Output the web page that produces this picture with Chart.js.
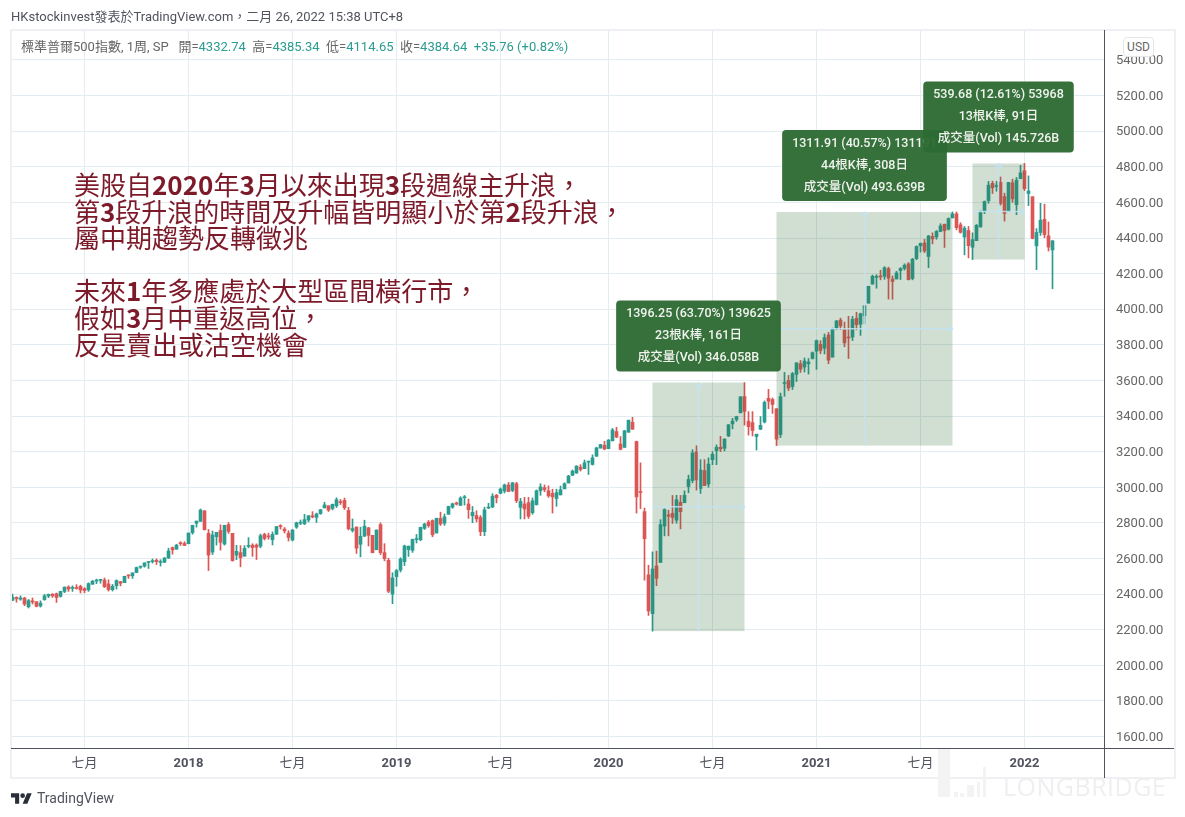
<!DOCTYPE html>
<html>
<head>
<meta charset="utf-8">
<title>SPX weekly</title>
<script src="https://cdn.jsdelivr.net/npm/chart.js@4/dist/chart.umd.js"></script>
<style>
  html, body { margin: 0; padding: 0; background: #fff; }
  body { position: relative; width: 1185px; height: 817px; overflow: hidden; font-family: Roboto, "Noto Sans CJK TC", sans-serif; }
  canvas { position: absolute; left: 0; top: 0; }
  .abs { position: absolute; white-space: pre; }
  #title { left: 11px; top: 6px; font-size: 13px; color: #50535e; }
  #legend { left: 21px; top: 36px; font-size: 13px; color: #666; }
  #legend i { font-style: normal; color: #2b9c90; }
  #note { left: 74px; top: 171px; font-size: 26px; line-height: 26.6px; color: #7d1a2a; font-family: "Noto Sans CJK TC", sans-serif; }
  #usd { left: 1123px; top: 37px; width: 29px; height: 18px; line-height: 18px; text-align: center; font-size: 12px; color: #666; background: #fff; border: 1px solid #e3e5ea; border-radius: 4px; }
  #brand { left: 37px; top: 790px; font-size: 14px; color: #50535e; }
  #logo { position: absolute; left: 11px; top: 791px; }
  #mark { left: 1003px; top: 769px; font-size: 25px; letter-spacing: 0.5px; color: #efefef; font-family: "Open Sans", sans-serif; }
  .line { position: absolute; background: #50535e; }
  .frame { position: absolute; background: #eef0f3; }
  .wm { position: absolute; background: #f3f3f3; }
</style>
</head>
<body>
<canvas id="chart" width="1185" height="817"></canvas>

<div class="frame" style="left:10px;top:29px;width:1166px;height:2px"></div>
<div class="frame" style="left:10px;top:777px;width:1166px;height:2px"></div>
<div class="frame" style="left:10px;top:29px;width:2px;height:750px"></div>
<div class="frame" style="left:1174px;top:29px;width:2px;height:750px"></div>

<!-- faint watermark bars -->
<div class="wm" style="left:938px;top:749px;width:12px;height:48px"></div>
<div class="wm" style="left:954px;top:792px;width:4px;height:5px"></div>
<div class="wm" style="left:960px;top:793px;width:4px;height:4px"></div>
<div class="wm" style="left:967px;top:785px;width:7px;height:12px"></div>
<div class="wm" style="left:977px;top:782px;width:3px;height:15px"></div>
<div class="wm" style="left:983px;top:767px;width:3px;height:30px"></div>
<div id="mark" class="abs">LONGBRIDGE</div>

<div class="line" style="left:11px;top:748px;width:1163px;height:1px"></div>
<div class="line" style="left:1104px;top:30px;width:1px;height:748px"></div>

<div id="title" class="abs"></div>
<div id="legend" class="abs"></div>
<div id="note" class="abs"></div>
<div id="usd" class="abs">USD</div>
<svg id="logo" width="21" height="14" viewBox="0 0 36 24"><path fill="#2a2e39" d="M14 22H7V11H0V4h14v18zM28 22h-8l7.5-18h8L28 22z"/><circle fill="#2a2e39" cx="20" cy="8" r="4"/></svg>
<div id="brand" class="abs">TradingView</div>

<script>
// weekly candles, 2017-02-27 through 2022-02-21
const opens = [
  2365,2381,2371,2378,2329,2362,2357,2333,2369,2389,
  2399,2402,2387,2415,2440,2432,2437,2444,2431,2424,
  2455,2473,2477,2478,2457,2425,2447,2470,2464,2503,
  2503,2521,2551,2557,2578,2582,2590,2578,2579,2602,
  2661,2652,2685,2684,2683,2745,2798,2809,2867,2741,
  2636,2722,2757,2681,2790,2741,2619,2633,2613,2668,
  2675,2675,2669,2735,2723,2705,2736,2781,2765,2742,
  2704,2776,2798,2795,2816,2840,2831,2852,2884,2896,
  2881,2896,2919,2926,2870,2757,2776,2680,2726,2772,
  2730,2649,2790,2633,2590,2400,2498,2535,2582,2650,
  2646,2706,2705,2769,2804,2813,2743,2825,2798,2848,
  2888,2912,2898,2941,2906,2840,2841,2830,2751,2883,
  2889,2955,2966,2979,3013,2982,3020,2887,2906,2913,
  2857,2902,2980,2998,2980,2965,2937,2957,2991,3024,
  3067,3080,3113,3105,3141,3128,3174,3220,3236,3217,
  3261,3313,3243,3224,3309,3365,3257,2974,2863,2508,
  2290,2558,2578,2782,2845,2854,2815,2915,2913,3004,
  3038,3199,2993,3094,3018,3155,3205,3225,3219,3288,
  3356,3380,3418,3509,3371,3363,3285,3326,3367,3500,
  3493,3441,3296,3583,3600,3566,3634,3694,3675,3694,
  3723,3764,3803,3781,3855,3731,3892,3939,3885,3842,
  3844,3949,3916,3963,4034,4141,4179,4185,4185,4228,
  4169,4170,4217,4229,4255,4173,4285,4356,4372,4296,
  4409,4406,4437,4477,4450,4513,4536,4474,4406,4442,
  4348,4385,4463,4553,4610,4707,4689,4712,4633,4548,
  4710,4587,4733,4778,4650,4632,4356,4431,4505,4412,
  4332.74
];
const highs = [
  2400,2385,2390,2382,2370,2378,2358,2362,2398,2400,
  2403,2406,2416,2440,2446,2446,2453,2450,2436,2463,
  2477,2484,2480,2490,2480,2454,2480,2471,2500,2508,
  2519,2552,2557,2576,2582,2597,2598,2593,2606,2658,
  2665,2680,2694,2694,2743,2787,2810,2878,2870,2763,
  2754,2747,2789,2787,2802,2741,2674,2672,2672,2717,
  2683,2682,2737,2742,2742,2749,2780,2790,2774,2756,
  2764,2804,2816,2848,2841,2863,2855,2876,2916,2896,
  2906,2941,2931,2939,2887,2822,2778,2776,2815,2775,
  2730,2760,2800,2683,2601,2520,2538,2604,2675,2670,
  2709,2735,2776,2798,2813,2817,2826,2860,2850,2894,
  2911,2917,2947,2954,2934,2892,2868,2841,2888,2910,
  2964,2960,2996,3018,3027,3027,3028,2938,2943,2943,
  2940,2985,3020,3013,3008,2989,2989,3007,3025,3067,
  3097,3121,3127,3153,3147,3182,3225,3241,3258,3268,
  3330,3337,3285,3320,3378,3393,3259,3137,2883,2562,
  2637,2641,2818,2879,2871,2954,2955,2954,2980,3068,
  3211,3233,3155,3155,3165,3200,3238,3286,3272,3352,
  3387,3399,3509,3588,3425,3425,3298,3397,3485,3550,
  3502,3441,3529,3645,3628,3645,3699,3712,3726,3723,
  3760,3827,3823,3861,3870,3894,3937,3950,3928,3960,
  3960,3983,3978,4020,4129,4192,4194,4219,4239,4236,
  4187,4213,4234,4255,4262,4286,4356,4372,4393,4415,
  4429,4442,4480,4479,4513,4546,4546,4486,4465,4465,
  4429,4476,4552,4608,4718,4719,4718,4743,4652,4713,
  4731,4740,4808,4818.62,4749,4632,4453,4595,4590,4490,
  4385.34
];
const lows = [
  2363,2354,2365,2335,2322,2344,2328,2327,2365,2380,
  2381,2353,2383,2408,2415,2415,2428,2406,2407,2415,
  2455,2459,2461,2437,2417,2417,2428,2446,2464,2488,
  2488,2520,2544,2551,2544,2574,2566,2557,2577,2600,
  2624,2652,2673,2673,2682,2736,2776,2808,2759,2532,
  2622,2675,2647,2675,2741,2585,2593,2553,2613,2660,
  2612,2594,2660,2704,2708,2676,2735,2765,2743,2698,
  2698,2769,2790,2790,2805,2828,2802,2848,2884,2864,
  2873,2886,2903,2875,2760,2748,2628,2609,2722,2670,
  2632,2649,2622,2587,2408,2346,2444,2524,2560,2612,
  2634,2687,2700,2763,2775,2722,2743,2785,2786,2848,
  2882,2900,2898,2900,2825,2801,2805,2728,2728,2880,
  2885,2912,2963,2968,2976,2975,2914,2822,2822,2825,
  2848,2900,2955,2975,2943,2855,2893,2957,2991,3024,
  3066,3078,3091,3104,3072,3125,3174,3220,3212,3217,
  3260,3278,3210,3224,3309,3326,2855,2880,2478,2280,
  2191.86,2447,2578,2727,2727,2797,2798,2766,2913,2969,
  3025,2984,2965,3009,3000,3127,3127,3200,3204,3284,
  3328,3370,3418,3349,3293,3288,3209,3323,3361,3441,
  3415,3233.94,3279,3511,3543,3549,3594,3645,3647,3636,
  3720,3662,3750,3749,3694,3731,3885,3885,3789,3723,
  3824,3884,3853,3917,4034,4141,4118,4165,4168,4057,
  4056,4170,4167,4220,4164,4165,4278,4321,4318,4233,
  4367,4393,4435,4347,4445,4513,4446,4427,4305,4288,
  4278.94,4385,4460,4537,4595,4650,4663,4585,4495,4548,
  4600,4531,4733,4666,4582,4395,4222,4414,4401,4327,
  4114.65
];
const closes = [
  2383,2373,2378,2344,2363,2355,2331,2349,2390,2399,
  2390,2381,2415,2439,2428,2438,2431,2423,2420,2459,
  2472,2474,2478,2441,2425,2444,2476,2461,2500,2502,
  2519,2549,2553,2575,2581,2587,2582,2582,2602,2642,
  2648,2675,2683,2673,2743,2786,2810,2872,2762,2619,
  2732,2747,2691,2786,2752,2588,2640,2604,2657,2670,
  2661,2663,2728,2712,2721,2735,2779,2779,2755,2718,
  2759,2801,2802,2818,2840,2833,2850,2874,2901,2872,
  2904,2930,2914,2885,2767,2768,2658,2724,2781,2730,
  2632,2760,2633,2599,2416,2491,2532,2596,2670,2669,
  2707,2707,2775,2793,2785,2733,2826,2794,2834,2892,
  2907,2905,2939,2945,2874,2859,2822,2750,2873,2886,
  2950,2941,2990,3013,2976,3025,2924,2920,2878,2837,
  2924,2980,3002,2987,2952,2946,2970,2986,3020,3063,
  3091,3119,3100,3137,3145,3165,3221,3240,3214,3265,
  3322,3282,3213,3317,3376,3326,2946,2970,2711,2305,
  2541,2488,2790,2875,2837,2830,2930,2863,2955,3044,
  3193,3041,3097,3009,3130,3185,3224,3215,3271,3351,
  3372,3397,3508,3426,3340,3319,3298,3348,3477,3483,
  3465,3270,3509,3585,3557,3638,3699,3663,3709,3703,
  3756,3824,3768,3841,3714,3887,3934,3906,3811,3838,
  3943,3913,3975,4020,4129,4185,4180,4181,4233,4174,
  4156,4204,4229,4247,4166,4281,4352,4370,4327,4411,
  4395,4437,4468,4441,4509,4535,4458,4432,4455,4357,
  4391,4471,4545,4605,4697,4682,4697,4594,4538,4712,
  4620,4725,4766,4677,4664,4398,4431,4500,4419,4349,
  4384.64
];

// axis ticks, x ones are candle indexes
const xTickIndex = [18, 44, 70, 96, 122, 149, 175, 201, 227, 253];
const xTickLabels = ['七月', '2018', '七月', '2019', '七月', '2020', '七月', '2021', '七月', '2022'];
const yTickValues = [1600, 1800, 2000, 2200, 2400, 2600, 2800, 3000, 3200, 3400, 3600, 3800, 4000, 4200, 4400, 4600, 4800, 5000, 5200, 5400];

// the three measure drawings
const measureStart = [160, 191, 240];
const measureEnd = [183, 235, 253];
const measureLow = [2191.86, 3233.94, 4278.94];
const measureHigh = [3588.11, 4545.85, 4818.62];
const measureLine1 = ['1396.25 (63.70%) 139625', '1311.91 (40.57%) 131191', '539.68 (12.61%) 53968'];
const measureLine2 = ['23根K棒, 161日', '44根K棒, 308日', '13根K棒, 91日'];
const measureLine3 = ['成交量(Vol) 346.058B', '成交量(Vol) 493.639B', '成交量(Vol) 145.726B'];

const noteLines = [
  '美股自2020年3月以來出現3段週線主升浪，',
  '第3段升浪的時間及升幅皆明顯小於第2段升浪，',
  '屬中期趨勢反轉徵兆',
  '',
  '未來1年多應處於大型區間橫行市，',
  '假如3月中重返高位，',
  '反是賣出或沽空機會'
];

const UP = '#2b9c90';
const DOWN = '#dd5656';
const GRID = '#e3ecf1';
const LABEL_FONT = 'Roboto, "Noto Sans CJK TC", sans-serif';

document.getElementById('title').textContent = 'HKstockinvest發表於TradingView.com，二月 26, 2022 15:38 UTC+8';
document.getElementById('legend').innerHTML = '標準普爾500指數, 1周, SP   開=<i>4332.74</i>  高=<i>4385.34</i>  低=<i>4114.65</i>  收=<i>4384.64</i>  <i>+35.76 (+0.82%)</i>';
document.getElementById('note').innerHTML = noteLines.map(function (l) {
  return l.replace(/\d+/g, '<b>$&</b>');
}).join('\n');

const candleColors = closes.map(function (c, i) { return c >= opens[i] ? UP : DOWN; });
const wickData = closes.map(function (c, i) { return { x: i, y: [lows[i], highs[i]] }; });
const bodyData = closes.map(function (c, i) {
  return { x: i, y: [Math.min(opens[i], c), Math.max(opens[i], c)] };
});

function roundBox(ctx, x, y, w, h, r) {
  ctx.beginPath();
  ctx.roundRect(x, y, w, h, r);
  ctx.fill();
}

function arrow(ctx, x0, y0, x1, y1) {
  const a = Math.atan2(y1 - y0, x1 - x0);
  ctx.beginPath();
  ctx.moveTo(x0, y0);
  ctx.lineTo(x1, y1);
  ctx.moveTo(x1 - 6 * Math.cos(a - 0.7), y1 - 6 * Math.sin(a - 0.7));
  ctx.lineTo(x1, y1);
  ctx.lineTo(x1 - 6 * Math.cos(a + 0.7), y1 - 6 * Math.sin(a + 0.7));
  ctx.stroke();
}

const measurePlugin = {
  id: 'measure',
  afterDatasetsDraw(chart) {
    const ctx = chart.ctx;
    const xs = chart.scales.x;
    const ys = chart.scales.y;
    ctx.save();
    measureStart.forEach(function (s, k) {
      const x0 = xs.getPixelForValue(s);
      const x1 = xs.getPixelForValue(measureEnd[k]);
      const y0 = ys.getPixelForValue(measureHigh[k]);
      const y1 = ys.getPixelForValue(measureLow[k]);
      const cx = (x0 + x1) / 2;
      const cy = (y0 + y1) / 2;

      ctx.fillStyle = 'rgba(46,107,52,0.22)';
      ctx.fillRect(x0, y0, x1 - x0, y1 - y0);

      ctx.strokeStyle = 'rgba(195,228,243,0.85)';
      ctx.lineWidth = 1.5;
      arrow(ctx, x0, cy, x1, cy);
      arrow(ctx, cx, y1, cx, y0);
    });

    // label boxes go last, the later box covers the earlier one
    measureStart.forEach(function (s, k) {
      const x0 = xs.getPixelForValue(s);
      const x1 = xs.getPixelForValue(measureEnd[k]);
      const y0 = ys.getPixelForValue(measureHigh[k]);
      const cx = (x0 + x1) / 2;
      const lines = [measureLine1[k], measureLine2[k], measureLine3[k]];
      ctx.font = '500 12.5px ' + LABEL_FONT;
      const w = Math.max.apply(null, lines.map(function (l) { return ctx.measureText(l).width; })) + 20;
      const top = y0 - 11 - 71;
      ctx.fillStyle = 'rgba(46,107,52,0.96)';
      roundBox(ctx, cx - w / 2, top, w, 71, 4);
      ctx.fillStyle = '#f0f3ee';
      ctx.textAlign = 'center';
      ctx.textBaseline = 'middle';
      lines.forEach(function (l, n) {
        ctx.fillText(l, cx, top + 13.5 + n * 22);
      });
    });
    ctx.restore();
  }
};

new Chart(document.getElementById('chart'), {
  type: 'bar',
  data: {
    datasets: [
      { data: bodyData, backgroundColor: candleColors, grouped: false, barPercentage: 1, categoryPercentage: 1, maxBarThickness: 3, minBarLength: 1, order: 1 },
      { data: wickData, backgroundColor: candleColors, grouped: false, barPercentage: 1, categoryPercentage: 1, maxBarThickness: 1, order: 2 }
    ]
  },
  options: {
    responsive: false,
    devicePixelRatio: 1,
    animation: false,
    layout: { padding: { left: 11, top: 30, right: 10, bottom: 39 } },
    plugins: { legend: { display: false }, tooltip: { enabled: false } },
    scales: {
      x: {
        type: 'linear',
        offset: false,
        // 4px a week, so the candles land on whole pixels
        min: -0.375,
        max: 272.875,
        afterBuildTicks(scale) {
          scale.ticks = xTickIndex.map(function (v) { return { value: v }; });
        },
        afterFit(scale) { scale.height = 30; },
        grid: { color: GRID, offset: false, drawTicks: false },
        border: { display: false },
        ticks: {
          autoSkip: false,
          maxRotation: 0,
          padding: 8,
          color: '#50535e',
          font: function (c) {
            return { family: LABEL_FONT, size: 13, weight: /七月/.test(xTickLabels[c.index]) ? 'normal' : 'bold' };
          },
          callback: function (v, i) { return xTickLabels[i]; }
        }
      },
      y: {
        position: 'right',
        min: 1535.4,
        max: 5568.4,
        afterBuildTicks(scale) {
          scale.ticks = yTickValues.map(function (v) { return { value: v }; });
        },
        afterFit(scale) { scale.width = 71; },
        grid: { color: GRID, drawTicks: false },
        border: { display: false },
        ticks: {
          autoSkip: false,
          padding: 12,
          labelOffset: 1,
          color: '#666',
          font: { family: LABEL_FONT, size: 13 },
          callback: function (v) { return v.toFixed(2); }
        }
      }
    }
  },
  plugins: [measurePlugin]
});
</script>
</body>
</html>
